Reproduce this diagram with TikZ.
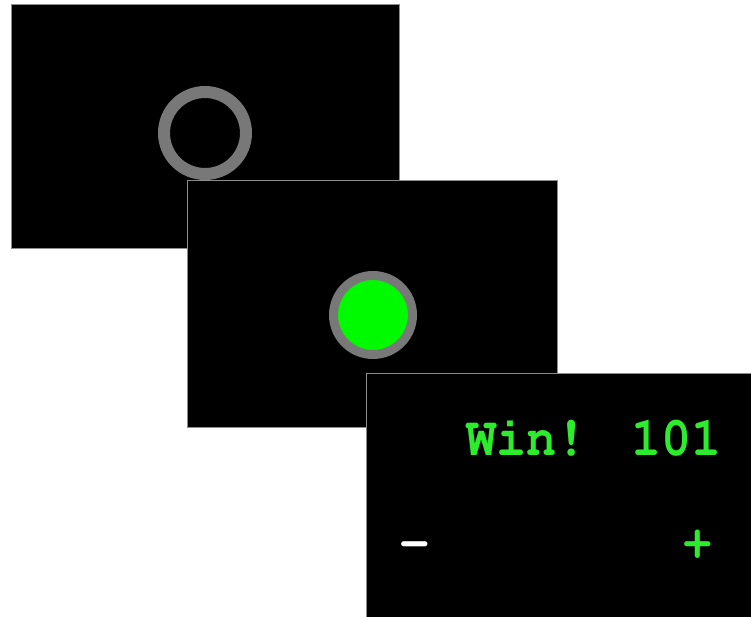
\documentclass[tikz,border=0pt]{standalone}
\usepackage{graphicx}
\definecolor{ringgray}{RGB}{120,120,120}
\definecolor{framegray}{RGB}{140,140,140}
\definecolor{dotgreen}{RGB}{0,250,0}
\definecolor{txtgreen}{RGB}{45,235,45}
\begin{document}
\begin{tikzpicture}[x=1pt,y=-1pt,
  screen/.style={draw=framegray,line width=1pt,fill=black,inner sep=0pt,anchor=north west},
  ring/.style={circle,draw=ringgray,inner sep=0pt},
  label/.style={font=\usefont{OT1}{pcr}{b}{n}\fontsize{51}{51}\selectfont,inner sep=0pt,anchor=base},
  wintext/.style={font=\usefont{OT1}{pcr}{b}{n}\fontsize{47}{47}\selectfont,inner sep=0pt,text=txtgreen}]
\useasboundingbox[fill=white] (0,0) rectangle (751,617);
\node[screen,minimum width=388pt,minimum height=244pt] (s1) at (11,4) {};
\node[ring,line width=12pt,minimum size=82pt] (c1) at (205,133) {};
\node[screen,minimum width=370pt,minimum height=247pt] (s2) at (187,180) {};
\node[ring,line width=9pt,fill=dotgreen,minimum size=79pt] (c2) at (373,315) {};
\node[screen,minimum width=390pt,minimum height=250pt] (s3) at (366,373) {};
\node[wintext,anchor=base west] (win) at (466,455) {\scalebox{1.07}[1.18]{Win!}};
\node[wintext,anchor=base east] (score) at (722,455) {\scalebox{1.07}[1.18]{101}};
\node[label,text=white] (minus) at (415,558) {-};
\node[label,text=txtgreen] (plus) at (698,558) {+};
\end{tikzpicture}
\end{document}
